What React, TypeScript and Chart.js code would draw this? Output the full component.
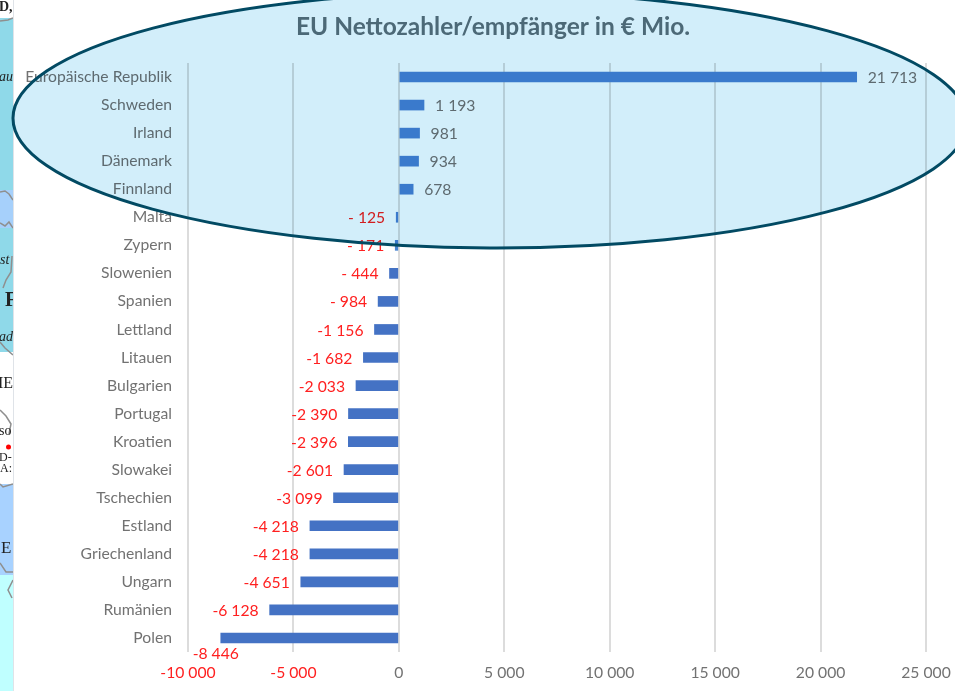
import React, { useEffect, useRef } from "react";
import { Chart, registerables } from "chart.js";

Chart.register(...registerables);

const categories = [
  "Europäische Republik", "Schweden", "Irland", "Dänemark", "Finnland", "Malta", "Zypern",
  "Slowenien", "Spanien", "Lettland", "Litauen", "Bulgarien", "Portugal", "Kroatien",
  "Slowakei", "Tschechien", "Estland", "Griechenland", "Ungarn", "Rumänien", "Polen",
];
const netValues = [
  21713, 1193, 981, 934, 678, -125, -171, -444, -984, -1156, -1682, -2033, -2390, -2396,
  -2601, -3099, -4218, -4218, -4651, -6128, -8446,
];
const titleText = "EU Nettozahler/empfänger in € Mio.";

const FONT = "Lato, Carlito, sans-serif";
const GRAY = "#727272";
const RED = "#ff2020";

const group = (n: number) => String(Math.abs(n)).replace(/\B(?=(\d{3})+$)/g, " ");
const tickText = (n: number) => (n < 0 ? "-" : "") + group(n);
const valueText = (n: number) => (n >= 0 ? group(n) : Math.abs(n) < 1000 ? "- " + group(n) : "-" + group(n));

const backdrop = {
  id: "backdrop",
  afterLayout(chart: any) {
    const t = chart.titleBlock;
    if (t) t.left = 2 * 493 - t.right;
  },
  beforeDraw(chart: any) {
    const c = chart.ctx;
    c.save();
    c.fillStyle = "#ffffff";
    c.fillRect(0, 0, chart.width, chart.height);
    const bands: [number, number, string][] = [
      [18, 190, "#8fd9e9"], [190, 228, "#a6d0fb"], [228, 352, "#8fd9e9"],
      [484, 575, "#a8d2ff"], [575, 691, "#bfffff"],
    ];
    bands.forEach(([a, b, col]) => { c.fillStyle = col; c.fillRect(0, a, 13, b - a); });
    c.fillStyle = "#dfe3e8";
    c.fillRect(13, 0, 1, chart.height);
    c.beginPath(); c.rect(0, 0, 13, chart.height); c.clip();
    c.strokeStyle = "#8f8f8f"; c.lineWidth = 1.5;
    const borders: [number, number][][] = [
      [[0, 21], [8, 20], [13, 18]],
      [[0, 192], [5, 191], [9, 194], [13, 200]],
      [[0, 223], [5, 226], [9, 222], [13, 228]],
      [[12, 256], [11, 272], [6, 280], [3, 288]],
      [[0, 342], [5, 348], [13, 355]],
      [[0, 410], [6, 416], [11, 424], [9, 434]],
      [[0, 484], [3, 487], [13, 484]],
      [[0, 563], [6, 572], [13, 572]],
      [[13, 580], [8, 590], [12, 598]],
    ];
    borders.forEach((pts) => {
      c.beginPath();
      pts.forEach(([x, y], i) => (i ? c.lineTo(x, y) : c.moveTo(x, y)));
      c.stroke();
    });
    c.fillStyle = "#222222";
    c.textBaseline = "middle";
    const bits: [string, number, number, string][] = [
      ["D,", -1, 7, "bold 14px 'Liberation Serif'"],
      ["au", -1, 77, "italic 14px 'Liberation Serif'"],
      ["st", 0, 260, "italic 14px 'Liberation Serif'"],
      ["F", 5, 301, "bold 20px 'Liberation Serif'"],
      ["ad", -1, 337, "italic 14px 'Liberation Serif'"],
      ["IE", -2, 384, "16px 'Liberation Serif'"],
      ["so", -1, 431, "14px 'Liberation Serif'"],
      ["D-", -1, 458, "12px 'Liberation Serif'"],
      ["A:", 0, 469, "12px 'Liberation Serif'"],
      ["E", 1, 549, "17px 'Liberation Serif'"],
    ];
    bits.forEach(([t, x, y, f]) => { c.font = f; c.fillText(t, x, y); });
    c.fillStyle = "#ff0000";
    c.beginPath(); c.arc(8.5, 447, 2.5, 0, Math.PI * 2); c.fill();
    c.restore();
  },
};

const valueLabels = {
  id: "valueLabels",
  afterDatasetsDraw(chart: any) {
    const c = chart.ctx;
    const meta = chart.getDatasetMeta(0);
    const lowest = Math.min(...netValues);
    c.save();
    c.font = "15.7px " + FONT;
    c.textBaseline = "middle";
    meta.data.forEach((bar: any, i: number) => {
      const v = netValues[i];
      c.fillStyle = v < 0 ? RED : GRAY;
      if (v === lowest) {
        c.textAlign = "center";
        c.fillText(valueText(v), bar.x - 5, bar.y + 16);
      } else if (v < 0) {
        c.textAlign = "right";
        c.fillText(valueText(v), bar.x - 11, bar.y + 1);
      } else {
        c.textAlign = "left";
        c.fillText(valueText(v), bar.x + 11, bar.y + 1);
      }
    });
    c.restore();
  },
};

const highlight = {
  id: "highlight",
  afterDraw(chart: any) {
    const c = chart.ctx;
    c.save();
    c.beginPath();
    c.ellipse(490, 120, 477, 128, 0.004, 0, Math.PI * 2);
    c.globalCompositeOperation = "multiply";
    c.fillStyle = "#d2eefa";
    c.fill();
    c.globalCompositeOperation = "source-over";
    c.strokeStyle = "#024a63";
    c.lineWidth = 3;
    c.stroke();
    c.restore();
  },
};

export default function App() {
  const ref = useRef<HTMLCanvasElement>(null);
  useEffect(() => {
    const chart = new Chart(ref.current as HTMLCanvasElement, {
      type: "bar",
      data: {
        labels: categories,
        datasets: [
          {
            data: netValues,
            backgroundColor: netValues.map((_, i) => (i < 7 ? "#4683d0" : "#4472c4")),
            barThickness: 10,
          },
        ],
      },
      options: {
        indexAxis: "y",
        responsive: false,
        animation: false,
        layout: { padding: { left: 0, right: 29, top: 0, bottom: 0 } },
        plugins: {
          legend: { display: false },
          tooltip: { enabled: false },
          title: {
            display: true,
            text: titleText,
            color: "#5c7079",
            font: { family: FONT, size: 24.5, weight: "bold" },
            padding: { top: 12, bottom: 21.6 },
            align: "center",
            fullSize: true,
          },
        },
        scales: {
          x: {
            type: "linear",
            position: "bottom",
            min: -10000,
            max: 25000,
            afterFit(s: any) { s.height = 39; s.paddingLeft = 0; s.paddingRight = 0; },
            ticks: {
              stepSize: 5000,
              padding: 12,
              maxRotation: 0,
              font: { family: FONT, size: 15.7 },
              color: (ctx: any) => (ctx.tick.value < 0 ? RED : GRAY),
              callback: (v: any) => tickText(Number(v)),
            },
            grid: { color: "#dcdcdc", lineWidth: 2, drawTicks: false },
            border: { display: false },
          },
          y: {
            type: "category",
            afterFit(s: any) { s.width = 188; },
            ticks: {
              padding: 16,
              autoSkip: false,
              font: { family: FONT, size: 15.7 },
              color: GRAY,
            },
            grid: { display: false, drawTicks: false },
            border: { display: false },
          },
        },
      },
      plugins: [backdrop, valueLabels, highlight],
    } as any);
    return () => chart.destroy();
  }, []);
  return (
    <div style={{ position: "fixed", left: 0, top: 0, width: 955, height: 691, overflow: "hidden" }}>
      <canvas ref={ref} width={955} height={691} style={{ display: "block", filter: "blur(0.35px)" }} />
    </div>
  );
}
